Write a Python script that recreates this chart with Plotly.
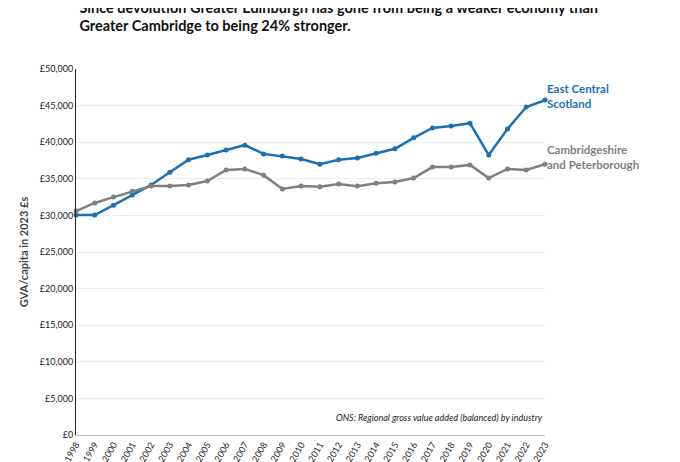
import plotly.graph_objects as go

years = list(range(1998, 2024))
east_central = [30050, 30050, 31400, 32800, 34150, 35900, 37600, 38250, 38950, 39600,
                38400, 38100, 37700, 37000, 37600, 37850, 38500, 39100, 40600, 41950,
                42200, 42600, 38250, 41800, 44800, 45750]
cambs = [30600, 31700, 32500, 33300, 34000, 34000, 34150, 34700, 36200, 36350,
         35500, 33600, 34000, 33900, 34300, 34000, 34400, 34550, 35100, 36600,
         36600, 36900, 35100, 36350, 36200, 37000]

blue = "#1a6fb5"
grey = "#7f7f7f"

fig = go.Figure()
fig.add_trace(go.Scatter(x=years, y=east_central, mode="lines+markers", cliponaxis=False,
                         line=dict(color=blue, width=2.5), marker=dict(size=5, color=blue)))
fig.add_trace(go.Scatter(x=years, y=cambs, mode="lines+markers", cliponaxis=False,
                         line=dict(color=grey, width=2.5), marker=dict(size=5, color=grey)))

fig.add_annotation(x=1, xref="paper", xshift=0, y=east_central[-1] + 500, text="<b>East Central<br>Scotland</b>",
                   showarrow=False, xanchor="left", align="left", font=dict(color=blue, size=11.5))
fig.add_annotation(x=1, xref="paper", y=cambs[-1] + 1000, text="<b>Cambridgeshire<br>and Peterborough</b>",
                   showarrow=False, xanchor="left", align="left", font=dict(color=grey, size=11.5))
fig.add_annotation(x=1, xref="paper", y=0, yref="paper", yshift=10,
                   text="<i>ONS: Regional gross value added (balanced) by industry</i>",
                   showarrow=False, xanchor="right", yanchor="bottom", font=dict(size=9, color="#222"))

fig.update_layout(
    width=680, height=462,
    margin=dict(l=68, r=143, t=61, b=35),
    paper_bgcolor="white", plot_bgcolor="white",
    showlegend=False,
    font=dict(family="Lato, Roboto, sans-serif", color="#333"),
    title=dict(text="<b>Since devolution Greater Edinburgh has gone from being a weaker economy than<br>Greater Cambridge to being 24% stronger.</b>",
               x=0.105, xanchor="left", y=0.99, yanchor="top", font=dict(size=14.5, color="#111")),
)
fig.update_xaxes(range=[1998, 2023], tickmode="array", tickvals=years, ticktext=[str(y) for y in years],
                 tickangle=-60, tickfont=dict(size=9, color="#222"), showgrid=False, automargin=False,
                 showline=True, linecolor="#bbb", zeroline=False)
fig.update_yaxes(range=[0, 50000], dtick=5000, tickprefix="£", tickformat=",", automargin=False,
                 tickfont=dict(size=9, color="#222"), gridcolor="#ececec",
                 showline=True, linecolor="#222", zeroline=False,
                 title=dict(text="<b>GVA/capita in 2023 £s</b>", font=dict(size=11, color="#444"), standoff=8))

fig.write_html("out.html")
